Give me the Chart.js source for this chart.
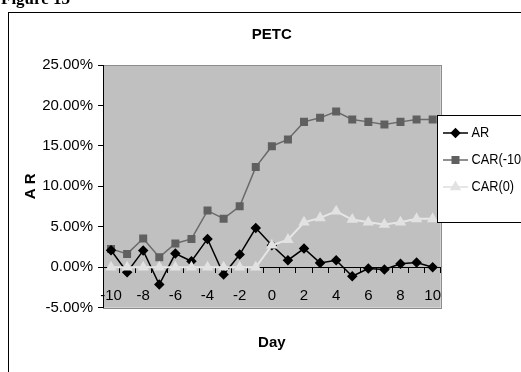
<!DOCTYPE html>
<html>
<head>
<meta charset="utf-8">
<script src="https://cdn.jsdelivr.net/npm/chart.js@4/dist/chart.umd.min.js"></script>
<style>
  html, body { margin: 0; padding: 0; background: #fff; }
  #wrap { width: 521px; height: 372px; }
</style>
</head>
<body>
<div id="wrap"><canvas id="c" width="521" height="372"></canvas></div>
<script>
// Event window, in days relative to the event date
const days = [-10, -9, -8, -7, -6, -5, -4, -3, -2, -1, 0, 1, 2, 3, 4, 5, 6, 7, 8, 9, 10];

// Abnormal return, %
const arValues = [2.10, -0.62, 2.06, -2.14, 1.69, 0.74, 3.50, -0.90, 1.57, 4.85,
                  2.72, 0.87, 2.31, 0.54, 0.87, -1.11, -0.16, -0.28, 0.42, 0.58, 0.00];

// Cumulative abnormal return from day -10, %
const carFromMinus10 = [2.27, 1.65, 3.55, 1.24, 2.93, 3.50, 7.00, 6.00, 7.54, 12.38,
                        14.96, 15.80, 17.97, 18.47, 19.25, 18.26, 17.97, 17.64, 17.97, 18.26, 18.26];

// Cumulative abnormal return from day 0, %
const carFromZero = [0, 0, 0, 0, 0, 0, 0, 0, 0, 0,
                     2.72, 3.42, 5.56, 6.10, 6.92, 5.90, 5.56, 5.28, 5.56, 5.98, 5.98];

const seriesNames = ['AR', 'CAR(-10,10)', 'CAR(0)'];
const yTicks = [-5, 0, 5, 10, 15, 20, 25];

const FONT = '"Liberation Sans", Arial, Helvetica, sans-serif';

// Page frame, caption, plot background
const backdrop = {
  id: 'backdrop',
  beforeDraw(chart) {
    const ctx = chart.ctx;
    const a = chart.chartArea;
    ctx.save();
    ctx.fillStyle = '#ffffff';
    ctx.fillRect(0, 0, chart.width, chart.height);

    ctx.fillStyle = '#000';
    ctx.font = 'bold 17px "Liberation Serif", "Times New Roman", serif';
    ctx.textBaseline = 'alphabetic';
    ctx.textAlign = 'left';
    ctx.fillText('Figure 13', 1, 4);

    ctx.strokeStyle = '#000';
    ctx.lineWidth = 1;
    ctx.strokeRect(8.5, 12.5, chart.width + 20, chart.height + 20);

    ctx.fillStyle = '#c0c0c0';
    ctx.fillRect(a.left, a.top, a.right - a.left, a.bottom - a.top);
    ctx.strokeStyle = '#8c8c8c';
    ctx.strokeRect(Math.round(a.left) + 0.5, Math.round(a.top) + 0.5,
                   Math.round(a.right - a.left), Math.round(a.bottom - a.top));
    ctx.restore();
  }
};

// Boxed legend with a line-and-marker sample per series
const boxedLegend = {
  id: 'boxedLegend',
  afterDraw(chart) {
    const ctx = chart.ctx;
    const box = { x: 437.5, y: 115.5, w: 120, h: 107 };
    const rows = [133, 160, 187];
    ctx.save();
    ctx.fillStyle = '#fff';
    ctx.fillRect(box.x, box.y, box.w, box.h);
    ctx.strokeStyle = '#000';
    ctx.lineWidth = 1;
    ctx.strokeRect(box.x, box.y, box.w, box.h);
    chart.data.datasets.forEach((ds, i) => {
      const y = rows[i];
      ctx.strokeStyle = ds.borderColor;
      ctx.lineWidth = ds.borderWidth;
      ctx.beginPath();
      ctx.moveTo(443, y);
      ctx.lineTo(468, y);
      ctx.stroke();
      ctx.fillStyle = ds.pointBackgroundColor;
      ctx.strokeStyle = ds.pointBorderColor;
      Chart.helpers.drawPoint(ctx, {
        pointStyle: ds.pointStyle, radius: ds.pointRadius, rotation: 0, borderWidth: 1
      }, 455.5, y);
      // condensed label text
      ctx.save();
      ctx.translate(471.5, y);
      ctx.scale(0.85, 1);
      ctx.fillStyle = '#000';
      ctx.font = '15px ' + FONT;
      ctx.textBaseline = 'middle';
      ctx.textAlign = 'left';
      ctx.fillText(ds.label, 0, 0);
      ctx.restore();
    });
    ctx.restore();
  }
};

new Chart(document.getElementById('c'), {
  type: 'line',
  data: {
    labels: days.map(String),
    datasets: [
      {
        label: seriesNames[0], data: arValues, order: 1,
        borderColor: '#000000', borderWidth: 1.5, tension: 0,
        pointStyle: 'rectRot', pointRadius: 4.2,
        pointBackgroundColor: '#000000', pointBorderColor: '#000000'
      },
      {
        label: seriesNames[1], data: carFromMinus10, order: 2,
        borderColor: '#6a6a6a', borderWidth: 1.5, tension: 0,
        pointStyle: 'rect', pointRadius: 4.6,
        pointBackgroundColor: '#606060', pointBorderColor: '#606060'
      },
      {
        label: seriesNames[2], data: carFromZero, order: 0,
        borderColor: '#e6e6e6', borderWidth: 2, tension: 0,
        pointStyle: 'triangle', pointRadius: 4.6,
        pointBackgroundColor: '#e2e2e2', pointBorderColor: '#e2e2e2'
      }
    ]
  },
  options: {
    responsive: false,
    animation: false,
    devicePixelRatio: 1,
    layout: { padding: { left: 18, right: 80.3, top: 0, bottom: 64.3 } },
    plugins: {
      legend: { display: false },
      tooltip: { enabled: false },
      title: {
        display: true, text: 'PETC', fullSize: false, color: '#000',
        font: { family: FONT, size: 15, weight: 'bold', lineHeight: 1.2 },
        padding: { top: 26, bottom: 21 }
      }
    },
    scales: {
      x: {
        type: 'category',
        position: { y: 0 },
        offset: true,
        grid: { offset: true, drawOnChartArea: false, drawTicks: true, tickLength: 5, color: '#000' },
        border: { color: '#000', width: 1 },
        ticks: {
          autoSkip: false, maxRotation: 0, minRotation: 0, padding: 15, color: '#000',
          font: { family: FONT, size: 15, lineHeight: 1.2 },
          callback: (v, i) => (days[i] % 2 === 0 ? String(days[i]) : '')
        },
        title: {
          display: true, text: 'Day', color: '#000',
          font: { family: FONT, size: 15, weight: 'bold', lineHeight: 1.2 },
          padding: { top: 14, bottom: 0 }
        }
      },
      y: {
        min: yTicks[0], max: yTicks[yTicks.length - 1],
        afterBuildTicks: (scale) => { scale.ticks = yTicks.map(v => ({ value: v })); },
        afterFit: (scale) => { scale.width = 85; },
        grid: { drawOnChartArea: false, tickLength: 5, color: '#000' },
        border: { color: '#000', width: 1 },
        ticks: {
          padding: 5, color: '#000',
          font: { family: FONT, size: 15, lineHeight: 1.2 },
          callback: (v) => v.toFixed(2) + '%'
        },
        title: {
          display: true, text: 'A R', color: '#000',
          font: { family: FONT, size: 15, weight: 'bold', lineHeight: 1.2 },
          padding: { top: 4, bottom: 0 }
        }
      }
    }
  },
  plugins: [backdrop, boxedLegend]
});
</script>
</body>
</html>
